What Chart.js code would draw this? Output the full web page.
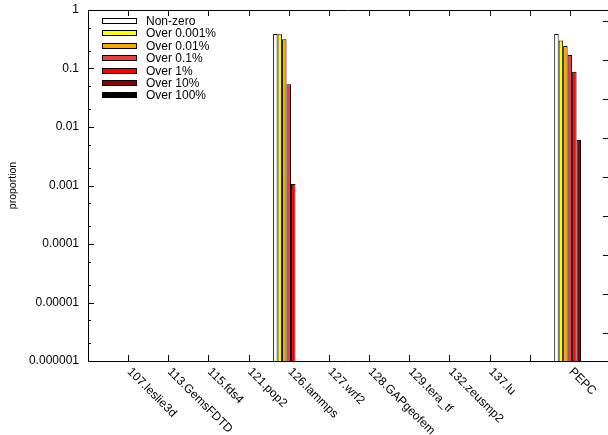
<!DOCTYPE html>
<html>
<head>
<meta charset="utf-8">
<script src="https://cdn.jsdelivr.net/npm/chart.js@4.4.0/dist/chart.umd.min.js"></script>
<style>
html, body { margin: 0; padding: 0; background: #fff; }
</style>
</head>
<body>
<canvas id="myChart" width="608" height="435"></canvas>
<script>
// benchmarks on the x axis (one empty slot before PEPC, as in the original)
var categories = ['107.leslie3d', '113.GemsFDTD', '115.fds4', '121.pop2', '126.lammps', '127.wrf2',
                  '128.GAPgeofem', '129.tera_tf', '132.zeusmp2', '137.lu', '', 'PEPC'];

var seriesNames = ['Non-zero', 'Over 0.001%', 'Over 0.01%', 'Over 0.1%', 'Over 1%', 'Over 10%', 'Over 100%'];

var nonZero  = [0, 0, 0, 0, 0.39,    0, 0, 0, 0, 0, 0, 0.39];
var over0001 = [0, 0, 0, 0, 0.385,   0, 0, 0, 0, 0, 0, 0.30];
var over001  = [0, 0, 0, 0, 0.316,   0, 0, 0, 0, 0, 0, 0.243];
var over01   = [0, 0, 0, 0, 0.054,   0, 0, 0, 0, 0, 0, 0.17];
var over1    = [0, 0, 0, 0, 0.00106, 0, 0, 0, 0, 0, 0, 0.088];
var over10   = [0, 0, 0, 0, 0,       0, 0, 0, 0, 0, 0, 0.006];
var over100  = [0, 0, 0, 0, 0,       0, 0, 0, 0, 0, 0, 0];

var yTickValues = [0.000001, 0.00001, 0.0001, 0.001, 0.01, 0.1, 1];
var yTickLabels = ['0.000001', '0.00001', '0.0001', '0.001', '0.01', '0.1', '1'];

var colors = ['#ffffff', '#ffff00', '#ffa500', '#f03c3c', '#ff0000', '#8b0000', '#000000'];

var FONT = '"Liberation Sans", Arial, sans-serif';
Chart.defaults.font.family = FONT;
Chart.defaults.font.size = 12;
Chart.defaults.color = '#000';

// zeros can't be shown on a log axis, so they become gaps
var allSeries = [nonZero, over0001, over001, over01, over1, over10, over100];
var datasets = allSeries.map(function (vals, s) {
    return {
        label: seriesNames[s],
        data: vals.map(function (v, i) { return { x: i, y: v > 0 ? v : null }; }),
        backgroundColor: colors[s],
        borderColor: '#000',
        borderWidth: 1,
        categoryPercentage: 0.78,
        barPercentage: 1.0
    };
});

// frame + inward tick marks (gnuplot style), drawn under the bars
var frameTicks = {
    id: 'frameTicks',
    beforeDatasetsDraw: function (chart) {
        var ctx = chart.ctx, a = chart.chartArea;
        var x = chart.scales.x, y = chart.scales.y, y2 = chart.scales.y2;
        ctx.save();
        ctx.strokeStyle = '#000';
        ctx.lineWidth = 1;
        ctx.beginPath();
        ctx.rect(Math.round(a.left) + 0.5, Math.round(a.top) + 0.5, a.right - a.left, a.bottom - a.top);
        categories.forEach(function (c, i) {
            var px = Math.round(x.getPixelForValue(i)) + 0.5;
            ctx.moveTo(px, a.bottom); ctx.lineTo(px, a.bottom - 6);
            ctx.moveTo(px, a.top); ctx.lineTo(px, a.top + 6);
        });
        yTickValues.forEach(function (v) {
            var py = Math.round(y.getPixelForValue(v)) + 0.5;
            ctx.moveTo(a.left, py); ctx.lineTo(a.left + 6, py);
            if (v < 1) {
                [2, 5].forEach(function (m) {
                    var pm = Math.round(y.getPixelForValue(v * m)) + 0.5;
                    ctx.moveTo(a.left, pm); ctx.lineTo(a.left + 3, pm);
                });
            }
        });
        for (var k = 0; k <= 8; k++) {
            var pr = Math.round(y2.getPixelForValue(k)) + 0.5;
            ctx.moveTo(a.right, pr); ctx.lineTo(a.right - 5, pr);
        }
        ctx.stroke();
        ctx.restore();
    }
};

// slanted x labels, starting at the tick and running down-right
var slantLabels = {
    id: 'slantLabels',
    afterDraw: function (chart) {
        var ctx = chart.ctx, a = chart.chartArea, x = chart.scales.x;
        ctx.save();
        ctx.font = '12px ' + FONT;
        ctx.fillStyle = '#000';
        ctx.textAlign = 'left';
        ctx.textBaseline = 'middle';
        categories.forEach(function (c, i) {
            if (!c) return;
            ctx.save();
            ctx.translate(x.getPixelForValue(i) + 1, a.bottom + 9);
            ctx.rotate(Math.PI / 4);
            ctx.fillText(c, 0, 0);
            ctx.restore();
        });
        ctx.restore();
    }
};

// key in the top-left corner of the plot
var boxLegend = {
    id: 'boxLegend',
    afterDraw: function (chart) {
        var ctx = chart.ctx, a = chart.chartArea;
        ctx.save();
        ctx.font = '12px ' + FONT;
        ctx.textBaseline = 'middle';
        ctx.lineWidth = 1;
        chart.data.datasets.forEach(function (ds, i) {
            var cy = Math.round(a.top + 11 + i * 12.4);
            var bx = Math.round(a.left + 14);
            ctx.fillStyle = ds.backgroundColor;
            ctx.fillRect(bx, cy - 3, 35, 6);
            ctx.strokeStyle = '#000';
            ctx.strokeRect(bx + 0.5, cy - 2.5, 34, 5);
            ctx.fillStyle = '#000';
            ctx.fillText(ds.label, bx + 44, cy + 0.5);
        });
        ctx.restore();
    }
};

var ctx = document.getElementById('myChart');

var myChart = new Chart(ctx, {
    type: 'bar',
    data: { datasets: datasets },
    options: {
        responsive: false,
        animation: false,
        layout: { padding: { top: 10, right: 0, left: 0, bottom: 0 } },
        plugins: {
            legend: { display: false },
            tooltip: { enabled: false }
        },
        scales: {
            x: {
                type: 'linear',
                offset: false,
                min: -1,
                max: 11.95,
                grid: { display: false, drawTicks: false },
                border: { display: false },
                ticks: { display: false },
                afterFit: function (scale) { scale.height = 74; }
            },
            y: {
                type: 'logarithmic',
                position: 'left',
                min: 0.000001,
                max: 1,
                grid: { display: false, drawTicks: false },
                border: { display: false },
                afterBuildTicks: function (scale) {
                    scale.ticks = yTickValues.map(function (v) { return { value: v }; });
                },
                ticks: {
                    padding: 9,
                    callback: function (value, index) { return yTickLabels[index]; }
                },
                title: {
                    display: true,
                    text: 'proportion',
                    font: { size: 10.5 },
                    padding: { top: 7, bottom: 0 }
                },
                afterFit: function (scale) {
                    scale.width = 88;
                    scale.paddingTop = 0;
                    scale.paddingBottom = 0;
                }
            },
            y2: {
                type: 'linear',
                position: 'right',
                min: -0.72,
                max: 8.28,
                grid: { display: false, drawTicks: false },
                border: { display: false },
                ticks: { display: false }
            }
        }
    },
    plugins: [frameTicks, slantLabels, boxLegend]
});
</script>
</body>
</html>
